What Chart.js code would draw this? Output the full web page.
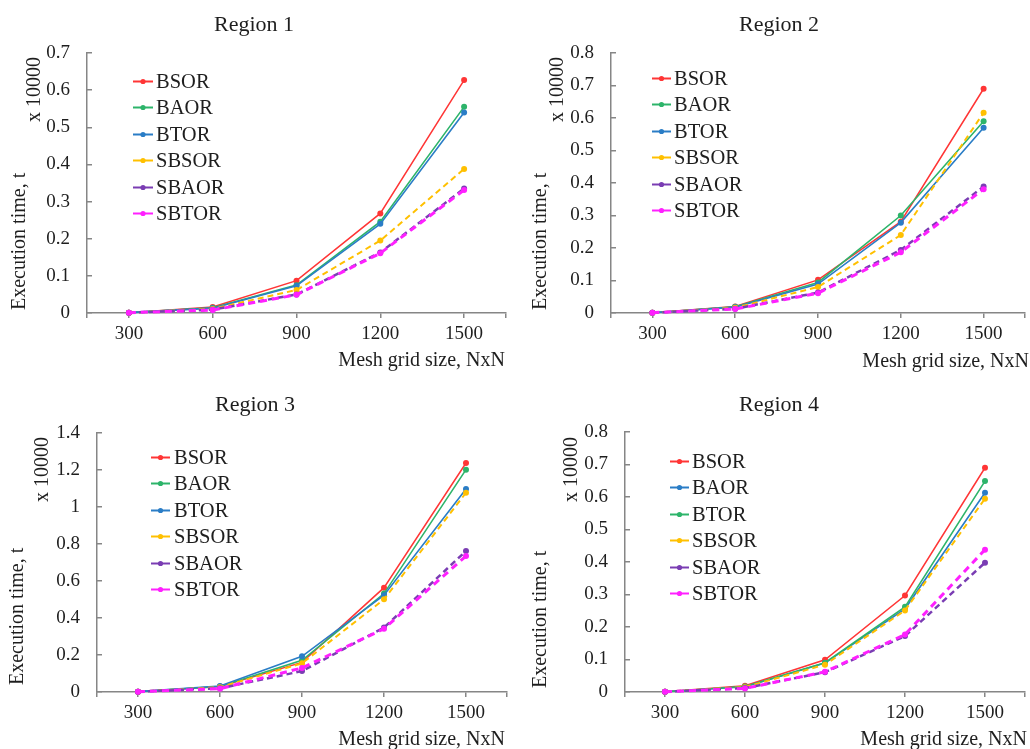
<!DOCTYPE html>
<html><head><meta charset="utf-8">
<script src="https://cdn.jsdelivr.net/npm/chart.js@4.4.1/dist/chart.umd.min.js"></script>
<style>
html,body{margin:0;padding:0;background:#fff;}
#wrap{position:relative;width:1030px;height:749px;overflow:hidden;background:#fff;}
canvas{position:absolute;}
</style></head><body>
<div id="wrap">
<canvas id="c0" width="515" height="380" style="left:0;top:0"></canvas>
<canvas id="c1" width="515" height="380" style="left:515px;top:0"></canvas>
<canvas id="c2" width="515" height="369" style="left:0;top:380px"></canvas>
<canvas id="c3" width="515" height="369" style="left:515px;top:380px"></canvas>
</div>
<script>
// ---------- data ----------
const categories = [300, 600, 900, 1200, 1500];
const xTickValues = [150, 300, 600, 900, 1200, 1500, 1650];
const seriesNames = ['BSOR', 'BAOR', 'BTOR', 'SBSOR', 'SBAOR', 'SBTOR'];
const regionTitles = ['Region 1', 'Region 2', 'Region 3', 'Region 4'];
const xAxisTitle = 'Mesh grid size, NxN';
const yAxisTitle = 'Execution time, t';
const unitLabel = 'x 10000';
const yMaxes = [0.7, 0.8, 1.4, 0.8];
const ySteps = [0.1, 0.1, 0.2, 0.1];

const region1BSOR  = [0.001, 0.016, 0.087, 0.268, 0.627];
const region1BAOR  = [0.001, 0.014, 0.075, 0.246, 0.555];
const region1BTOR  = [0.001, 0.013, 0.073, 0.240, 0.540];
const region1SBSOR = [0.001, 0.011, 0.062, 0.195, 0.388];
const region1SBAOR = [0.001, 0.009, 0.050, 0.163, 0.335];
const region1SBTOR = [0.001, 0.008, 0.049, 0.161, 0.331];

const region2BSOR  = [0.001, 0.020, 0.102, 0.281, 0.690];
const region2BAOR  = [0.001, 0.019, 0.094, 0.300, 0.590];
const region2BTOR  = [0.001, 0.018, 0.089, 0.278, 0.570];
const region2SBSOR = [0.001, 0.016, 0.080, 0.240, 0.616];
const region2SBAOR = [0.001, 0.013, 0.063, 0.194, 0.389];
const region2SBTOR = [0.001, 0.012, 0.061, 0.187, 0.381];

const region3BSOR  = [0.002, 0.030, 0.160, 0.564, 1.238];
const region3BAOR  = [0.002, 0.030, 0.171, 0.532, 1.202];
const region3BTOR  = [0.002, 0.032, 0.193, 0.523, 1.097];
const region3SBSOR = [0.002, 0.026, 0.155, 0.501, 1.077];
const region3SBAOR = [0.002, 0.020, 0.113, 0.348, 0.762];
const region3SBTOR = [0.002, 0.018, 0.130, 0.342, 0.735];

const region4BSOR  = [0.001, 0.019, 0.099, 0.297, 0.690];
const region4BAOR  = [0.001, 0.016, 0.089, 0.256, 0.613];
const region4BTOR  = [0.001, 0.017, 0.090, 0.262, 0.649];
const region4SBSOR = [0.001, 0.015, 0.084, 0.251, 0.595];
const region4SBAOR = [0.001, 0.012, 0.061, 0.172, 0.398];
const region4SBTOR = [0.001, 0.011, 0.062, 0.177, 0.438];

const regionSeries = [
  [region1BSOR, region1BAOR, region1BTOR, region1SBSOR, region1SBAOR, region1SBTOR],
  [region2BSOR, region2BAOR, region2BTOR, region2SBSOR, region2SBAOR, region2SBTOR],
  [region3BSOR, region3BAOR, region3BTOR, region3SBSOR, region3SBAOR, region3SBTOR],
  [region4BSOR, region4BAOR, region4BTOR, region4SBSOR, region4SBAOR, region4SBTOR]
];

// ---------- styles ----------
const RED = '#FF3535', GREEN = '#2DB46A', BLUE = '#2A7DC6', YELLOW = '#FFC000', PURPLE = '#7A3DB3', MAGENTA = '#FF20FF';
const colorSets = [
  [RED, GREEN, BLUE, YELLOW, PURPLE, MAGENTA],
  [RED, GREEN, BLUE, YELLOW, PURPLE, MAGENTA],
  [RED, GREEN, BLUE, YELLOW, PURPLE, MAGENTA],
  [RED, BLUE, GREEN, YELLOW, PURPLE, MAGENTA]
];
const lineWidths = [1.5, 1.6, 1.6, 2, 2.5, 3];
const lineDashes = [[], [], [], [6, 4], [6, 4], [7, 5]];
const FONT = '"Liberation Serif", "Times New Roman", serif';
const TEXT = '#1e1e1e';
const AXIS = '#868686';

const layouts = [
  {left: 87, right: 9, top: 53, xh: 67, titleX: 254, titleY: 25, yTitleX: 20, yTitleBottom: 310, unitX: 35, unitTop: 57, xTitleRight: 505, xTitleY: 361, lx0: 133, lx1: 153, ltx: 156, ly: 81, lstep: 26.4},
  {left: 96, right: 0, top: 53, xh: 67, titleX: 264, titleY: 25, yTitleX: 26, yTitleBottom: 310, unitX: 43, unitTop: 57, xTitleRight: 514, xTitleY: 362, lx0: 137, lx1: 156, ltx: 159, ly: 78, lstep: 26.4},
  {left: 97, right: 8, top: 53, xh: 57, titleX: 255, titleY: 25, yTitleX: 18, yTitleBottom: 305, unitX: 43, unitTop: 57, xTitleRight: 505, xTitleY: 360, lx0: 151, lx1: 170, ltx: 174, ly: 77, lstep: 26.4},
  {left: 110, right: 3, top: 52, xh: 57, titleX: 264, titleY: 25, yTitleX: 26, yTitleBottom: 308, unitX: 57, unitTop: 57, xTitleRight: 512, xTitleY: 360, lx0: 155, lx1: 174, ltx: 177, ly: 81, lstep: 26.4}
];

function decorPlugin(idx) {
  const L = layouts[idx];
  return {
    id: 'decor' + idx,
    afterDraw(chart) {
      const ctx = chart.ctx;
      ctx.save();
      ctx.fillStyle = TEXT;
      ctx.textBaseline = 'middle';
      ctx.font = '22px ' + FONT;
      ctx.textAlign = 'center';
      ctx.fillText(regionTitles[idx], L.titleX, L.titleY);
      ctx.font = '20px ' + FONT;
      ctx.textAlign = 'right';
      ctx.fillText(xAxisTitle, L.xTitleRight, L.xTitleY);
      ctx.save();
      ctx.translate(L.yTitleX, L.yTitleBottom);
      ctx.rotate(-Math.PI / 2);
      ctx.textAlign = 'left';
      ctx.fillText(yAxisTitle, 0, 0);
      ctx.restore();
      ctx.save();
      ctx.translate(L.unitX, L.unitTop);
      ctx.rotate(-Math.PI / 2);
      ctx.textAlign = 'right';
      ctx.fillText(unitLabel, 0, 0);
      ctx.restore();
      // legend
      chart.data.datasets.forEach((ds, i) => {
        const y = Math.round(L.ly + i * L.lstep) + 0.5;
        ctx.strokeStyle = ds.borderColor;
        ctx.lineWidth = 2;
        ctx.setLineDash([]);
        ctx.beginPath(); ctx.moveTo(L.lx0, y); ctx.lineTo(L.lx1, y); ctx.stroke();
        ctx.fillStyle = ds.borderColor;
        ctx.beginPath(); ctx.arc((L.lx0 + L.lx1) / 2, y, 2.6, 0, Math.PI * 2); ctx.fill();
        ctx.fillStyle = TEXT;
        ctx.font = '20.5px ' + FONT;
        ctx.textAlign = 'left';
        ctx.fillText(ds.label, L.ltx, y + 1);
      });
      ctx.restore();
    }
  };
}

function buildChart(idx) {
  const L = layouts[idx];
  const datasets = regionSeries[idx].map((vals, i) => ({
    label: seriesNames[i],
    data: vals.map((v, k) => ({x: categories[k], y: v})),
    borderColor: colorSets[idx][i],
    backgroundColor: colorSets[idx][i],
    borderWidth: lineWidths[i],
    borderDash: lineDashes[i],
    pointRadius: 3,
    pointBorderWidth: 0,
    pointHoverRadius: 3,
    tension: 0,
    clip: false,
    order: 5 - i
  }));
  new Chart(document.getElementById('c' + idx), {
    type: 'line',
    data: {datasets},
    options: {
      responsive: false,
      animation: false,
      events: [],
      layout: {padding: {left: 0, right: L.right, top: L.top, bottom: 0}},
      plugins: {legend: {display: false}, title: {display: false}, tooltip: {enabled: false}},
      scales: {
        x: {
          type: 'linear',
          min: 150, max: 1650,
          afterBuildTicks: (s) => { s.ticks = xTickValues.map(v => ({value: v})); },
          afterFit: (s) => { s.height = L.xh; },
          ticks: {
            autoSkip: false, maxRotation: 0,
            callback: (v) => categories.includes(v) ? String(v) : '',
            font: {family: FONT, size: 19}, color: TEXT, padding: 5
          },
          grid: {drawOnChartArea: false, drawTicks: true, tickLength: 5, color: AXIS, lineWidth: 1.5},
          border: {color: AXIS, width: 1.5}
        },
        y: {
          min: 0, max: yMaxes[idx],
          afterFit: (s) => { s.width = L.left; },
          ticks: {
            stepSize: ySteps[idx],
            callback: (v) => String(parseFloat(Number(v).toFixed(2))),
            font: {family: FONT, size: 19}, color: TEXT, padding: 22
          },
          grid: {drawOnChartArea: false, drawTicks: true, tickLength: -5, color: AXIS, lineWidth: 1.5},
          border: {color: AXIS, width: 1.5}
        }
      }
    },
    plugins: [decorPlugin(idx)]
  });
}
[0, 1, 2, 3].forEach(buildChart);
</script>
</body></html>
